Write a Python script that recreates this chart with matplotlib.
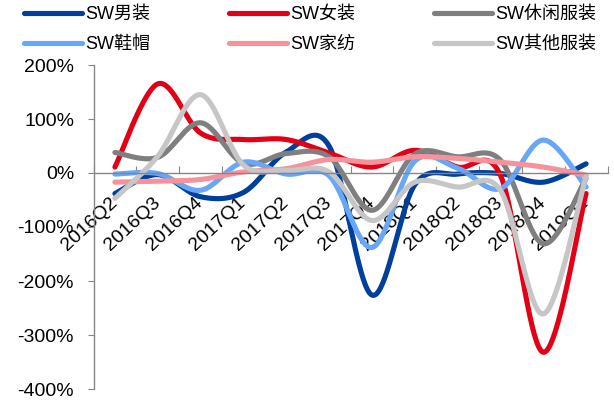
import numpy as np
import matplotlib
matplotlib.use("Agg")
import matplotlib.pyplot as plt
from matplotlib.lines import Line2D

plt.rcParams['font.family'] = ['Liberation Sans', 'Noto Sans CJK SC', 'DejaVu Sans']

quarters = ['2016Q2', '2016Q3', '2016Q4', '2017Q1', '2017Q2', '2017Q3',
            '2017Q4', '2018Q1', '2018Q2', '2018Q3', '2018Q4', '2019Q1']

menswear = [-38, -3, -44, -36, 39, 50, -226, -22, -2, -1, -17, 17]
womenswear = [11, 165, 74, 62, 62, 37, 11, 42, 11, -4, -332, -38]
casualwear = [38, 29, 93, 18, 36, 30, -69, 35, 30, 24, -131, -10]
footwear = [-2, -1, -32, 20, -2, -5, -138, 22, 9, -29, 61, -26]
hometextile = [-17, -15, -12, 2, 8, 25, 20, 30, 27, 20, 11, -4]
otherwear = [-47, 31, 145, 15, 5, 2, -88, -17, -26, -32, -261, -6]

series_names = ['SW男装', 'SW女装', 'SW休闲服装', 'SW鞋帽', 'SW家纺', 'SW其他服装']
series_values = [menswear, womenswear, casualwear, footwear, hometextile, otherwear]
series_colors = ['#00409A', '#E30016', '#7F7F7F', '#68A6F8', '#F6939A', '#C6C6C6']

y_ticks = [-400, -300, -200, -100, 0, 100, 200]


def smooth_curve(xs, ys, steps=40):
    """Piecewise cubic Bezier through the points (spreadsheet-style smoothing)."""
    pts = np.column_stack([xs, ys]).astype(float)
    n = len(pts)
    out = []
    for i in range(n - 1):
        p0 = pts[max(i - 1, 0)]
        p1 = pts[i]
        p2 = pts[i + 1]
        p3 = pts[min(i + 2, n - 1)]
        c1 = p1 + (p2 - p0) / 6.0
        c2 = p2 - (p3 - p1) / 6.0
        t = np.linspace(0, 1, steps)[:, None]
        seg = ((1 - t) ** 3) * p1 + 3 * ((1 - t) ** 2) * t * c1 + 3 * (1 - t) * t ** 2 * c2 + t ** 3 * p2
        if i > 0:
            seg = seg[1:]
        out.append(seg)
    out = np.vstack(out)
    return out[:, 0], out[:, 1]


fig = plt.figure(figsize=(6.14, 4.0), dpi=100)
ax = fig.add_axes([93.5 / 614, 11 / 400, 514 / 614, 324 / 400])

x = np.arange(len(quarters))
handles = []
for name, vals, color in zip(series_names, series_values, series_colors):
    sx, sy = smooth_curve(x, vals)
    ax.plot(sx, sy, color=color, lw=3.7, solid_capstyle='round', solid_joinstyle='round')
    handles.append(Line2D([], [], color=color, lw=3.7, solid_capstyle='round', label=name))

ax.set_xlim(-0.5, len(quarters) - 0.5)
ax.set_ylim(-400, 200)

axis_grey = '#868686'
for side in ['top', 'right']:
    ax.spines[side].set_visible(False)
ax.spines['bottom'].set_position(('data', 0))
ax.spines['bottom'].set_color(axis_grey)
ax.spines['left'].set_color(axis_grey)
ax.spines['bottom'].set_linewidth(1.0)
ax.spines['left'].set_linewidth(1.0)

ax.set_yticks(y_ticks)
ax.set_yticklabels([f'{v}%' for v in y_ticks], fontsize=14)
ax.tick_params(axis='y', direction='out', length=4, color=axis_grey, pad=10)

ax.set_xticks(np.arange(-0.5, len(quarters)), labels=[''] * (len(quarters) + 1))
ax.tick_params(axis='x', which='major', direction='in', length=5, color=axis_grey)
ax.set_xticks(x, labels=quarters, minor=True)
ax.tick_params(axis='x', which='minor', length=0, pad=20, labelsize=14)
for lab in ax.get_xticklabels(minor=True):
    lab.set_rotation(43)
    lab.set_ha('right')
    lab.set_va('center')
    lab.set_rotation_mode('anchor')

# legend laid out row by row: three entries per row
ncol = 3
order = [r * ncol + c for c in range(ncol) for r in range(2)]
fig.legend(handles=[handles[i] for i in order], ncol=ncol, loc='upper left',
           bbox_to_anchor=(24 / 614, 1 - 6 / 400), frameon=False,
           fontsize=13, handlelength=3.2, handletextpad=0.2,
           columnspacing=4.35, labelspacing=0.72, borderpad=0, borderaxespad=0)

fig.savefig('out.png', dpi=100)
